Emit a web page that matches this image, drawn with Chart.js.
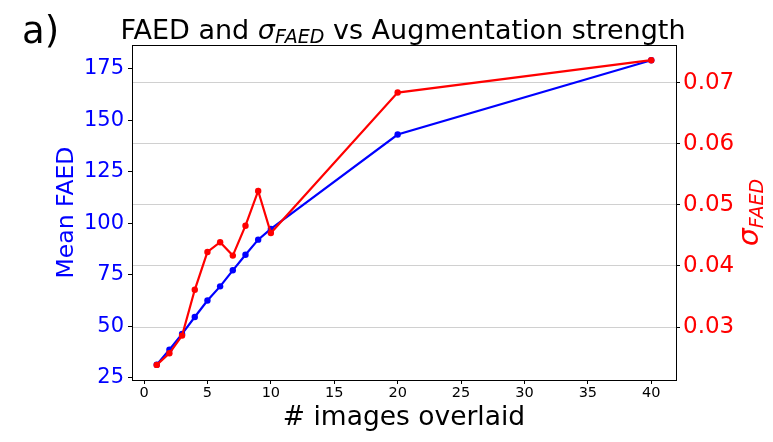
<!DOCTYPE html>
<html>
<head>
<meta charset="utf-8">
<script src="https://cdn.jsdelivr.net/npm/chart.js@4"></script>
<style>
    html, body { margin:0; padding:0; background:#fff; }
    #wrap { width:773px; height:442px; position:relative; }
</style>
</head>
<body>
<div id="wrap"><canvas id="myChart"></canvas></div>
<script>
// ============================================================
// DATA
// ============================================================

const imagesOverlaid = [1, 2, 3, 4, 5, 6, 7, 8, 9, 10, 20, 40];
const meanFaed       = [31.2, 38.5, 46.2, 54.4, 62.4, 69.3, 77.1, 84.7, 92.0, 97.2, 143.1, 179.2];
const sigmaFaed      = [0.0238, 0.0257, 0.0286, 0.0361, 0.0423, 0.0439, 0.0417, 0.0466, 0.0523, 0.0454, 0.0684, 0.0737];

const xTicks     = [0, 5, 10, 15, 20, 25, 30, 35, 40];
const leftTicks  = [25, 50, 75, 100, 125, 150, 175];
const rightTicks = [0.03, 0.04, 0.05, 0.06, 0.07];

const FONT = "'DejaVu Sans', sans-serif";

// ============================================================
// TEXT PLUGIN — panel letter, title, axis titles, frame
// ============================================================

function drawPieces(ctx, pieces, x, y) {
    pieces.forEach(p => {
        ctx.font = p.font;
        ctx.fillText(p.text, x, y + (p.dy || 0));
        x += ctx.measureText(p.text).width;
    });
}

function piecesWidth(ctx, pieces) {
    return pieces.reduce((w, p) => {
        ctx.font = p.font;
        return w + ctx.measureText(p.text).width;
    }, 0);
}

const textPlugin = {
    id: 'textPlugin',
    afterDraw(chart) {
        const ctx  = chart.ctx;
        const area = chart.chartArea;
        ctx.save();

        // frame
        ctx.strokeStyle = '#000';
        ctx.lineWidth   = 1;
        ctx.strokeRect(Math.round(area.left) + 0.5, Math.round(area.top) + 0.5,
                       Math.round(area.right - area.left), Math.round(area.bottom - area.top));

        ctx.textBaseline = 'alphabetic';
        ctx.fillStyle    = '#000';

        // panel letter
        ctx.textAlign = 'left';
        ctx.font = `37px ${FONT}`;
        ctx.fillText('a)', 22, 43);

        // title
        const title = [
            { text: 'FAED and ', font: `27px ${FONT}` },
            { text: 'σ',         font: `italic 27px ${FONT}` },
            { text: 'FAED',      font: `italic 19px ${FONT}`, dy: 4 },
            { text: ' vs Augmentation strength', font: `27px ${FONT}` }
        ];
        const tw = piecesWidth(ctx, title);
        drawPieces(ctx, title, 403 - tw / 2, 39);

        // x title
        ctx.textAlign = 'center';
        ctx.font = `26.5px ${FONT}`;
        ctx.fillText('# images overlaid', (area.left + area.right) / 2, 425);

        const midY = (area.top + area.bottom) / 2;

        // left title
        ctx.save();
        ctx.translate(73, midY);
        ctx.rotate(-Math.PI / 2);
        ctx.fillStyle = '#0000ff';
        ctx.font = `23.5px ${FONT}`;
        ctx.fillText('Mean FAED', 0, 0);
        ctx.restore();

        // right title
        const rt = [
            { text: 'σ',    font: `italic 28px ${FONT}` },
            { text: 'FAED', font: `italic 19px ${FONT}`, dy: 5 }
        ];
        ctx.save();
        ctx.translate(758, midY);
        ctx.rotate(-Math.PI / 2);
        ctx.fillStyle = '#ff0000';
        ctx.textAlign = 'left';
        const rw = piecesWidth(ctx, rt);
        drawPieces(ctx, rt, -rw / 2, 0);
        ctx.restore();

        ctx.restore();
    }
};

// ============================================================
// CHART
// ============================================================

const setTicks = list => scale => { scale.ticks = list.map(v => ({ value: v })); };

new Chart(document.getElementById('myChart'), {
    type: 'line',
    data: {
        datasets: [
            {
                label: 'sigma',
                data: imagesOverlaid.map((x, i) => ({ x, y: sigmaFaed[i] })),
                yAxisID: 'yR',
                borderColor: '#ff0000',
                backgroundColor: '#ff0000',
                borderWidth: 2.2,
                pointRadius: 3.2,
                pointBorderWidth: 0,
                order: 0
            },
            {
                label: 'mean',
                data: imagesOverlaid.map((x, i) => ({ x, y: meanFaed[i] })),
                yAxisID: 'yL',
                borderColor: '#0000ff',
                backgroundColor: '#0000ff',
                borderWidth: 2.2,
                pointRadius: 3.2,
                pointBorderWidth: 0,
                order: 1
            }
        ]
    },
    options: {
        responsive: true,
        maintainAspectRatio: false,
        animation: false,
        layout: { padding: { top: 45, left: 0, right: 0, bottom: 0 } },
        plugins: {
            legend:  { display: false },
            tooltip: { enabled: false }
        },
        scales: {
            x: {
                type: 'linear',
                position: 'bottom',
                min: -0.95,
                max: 41.95,
                afterBuildTicks: setTicks(xTicks),
                afterFit: s => { s.height = 62; },
                border: { color: '#000', width: 1 },
                grid: { drawOnChartArea: false, tickLength: 4, tickColor: '#000' },
                ticks: { color: '#000', padding: 1, font: { family: 'DejaVu Sans', size: 14.5 } }
            },
            yL: {
                type: 'linear',
                position: 'left',
                min: 23.8,
                max: 186.6,
                afterBuildTicks: setTicks(leftTicks),
                afterFit: s => { s.width = 132; },
                border: { color: '#000', width: 1 },
                grid: { drawOnChartArea: false, tickLength: 4, tickColor: '#000' },
                ticks: { color: '#0000ff', padding: 4, font: { family: 'DejaVu Sans', size: 21 } }
            },
            yR: {
                type: 'linear',
                position: 'right',
                min: 0.02133,
                max: 0.07619,
                afterBuildTicks: setTicks(rightTicks),
                afterFit: s => { s.width = 97; },
                border: { color: '#000', width: 1 },
                grid: { drawOnChartArea: true, color: '#d0d0d0', lineWidth: 1, tickLength: 4, tickColor: '#000' },
                ticks: {
                    color: '#ff0000',
                    padding: 3,
                    font: { family: 'DejaVu Sans', size: 23 },
                    callback: v => v.toFixed(2)
                }
            }
        }
    },
    plugins: [textPlugin]
});
</script>
</body>
</html>
